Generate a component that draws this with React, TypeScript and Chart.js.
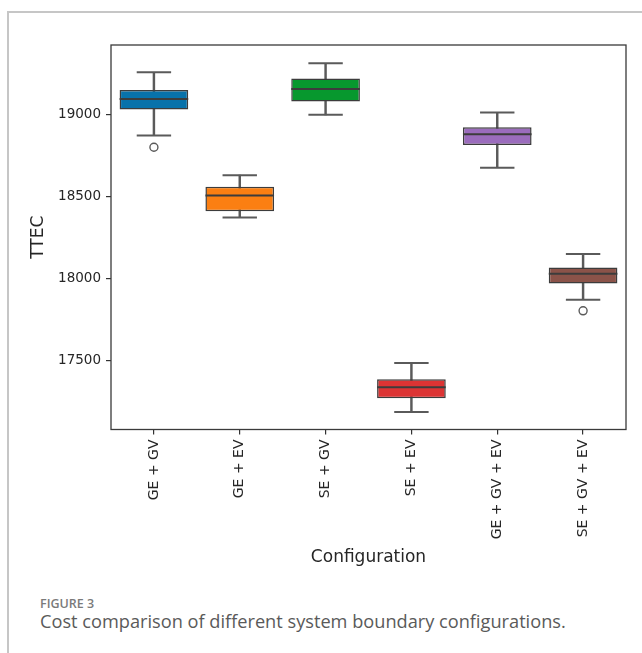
import React, { useEffect, useRef } from "react";
import { Chart, registerables } from "chart.js";

Chart.register(...registerables);

const categories = ["GE + GV", "GE + EV", "SE + GV", "SE + EV", "GE + GV + EV", "SE + GV + EV"];
const whiskerLow = [18870, 18371, 18996, 17189, 18675, 17872];
const q1 = [19028, 18410, 19077, 17272, 18813, 17970];
const median = [19093, 18505, 19154, 17339, 18878, 18029];
const q3 = [19148, 18558, 19217, 17388, 18921, 18067];
const whiskerHigh = [19255, 18629, 19310, 17487, 19010, 18150];
const outliers: (number | null)[] = [18799, null, null, null, null, 17804];
const boxColors = ["#0872aa", "#fb7f12", "#07982e", "#dc3434", "#9b6cbd", "#8b5349"];
const yTicks = [17500, 18000, 18500, 19000];
const yMin = 17082;
const yMax = 19421;

const W = 642;
const CH = 570;
const EDGE = "#3c3c3c";
const WHISK = "#5a5a5a";
const FONT = "'DejaVu Sans', sans-serif";

const framePlugin = {
  id: "frame",
  afterDraw(chart: any) {
    const { ctx, chartArea } = chart;
    ctx.save();
    ctx.strokeStyle = "#3a3a3a";
    ctx.lineWidth = 1.3;
    ctx.strokeRect(chartArea.left, chartArea.top, chartArea.right - chartArea.left, chartArea.bottom - chartArea.top);
    ctx.restore();
  },
};

export default function App() {
  const ref = useRef<HTMLCanvasElement>(null);
  useEffect(() => {
    document.body.style.margin = "0";
    const canvas = ref.current!;
    const chart = new Chart(canvas, {
      type: "bar",
      data: {
        labels: categories,
        datasets: [
          {
            type: "line",
            label: "outliers",
            data: outliers,
            showLine: false,
            pointStyle: "circle",
            pointRadius: 4,
            pointBorderWidth: 1.4,
            pointBorderColor: WHISK,
            pointBackgroundColor: "rgba(255,255,255,0)",
            order: 0,
          } as any,
          {
            type: "line",
            label: "median",
            data: median,
            showLine: false,
            pointStyle: "line",
            pointRadius: 34.3,
            pointBorderWidth: 2,
            pointBorderColor: EDGE,
            order: 1,
          } as any,
          {
            type: "line",
            label: "capHigh",
            data: whiskerHigh,
            showLine: false,
            pointStyle: "line",
            pointRadius: 17.2,
            pointBorderWidth: 2,
            pointBorderColor: WHISK,
            order: 2,
          } as any,
          {
            type: "line",
            label: "capLow",
            data: whiskerLow,
            showLine: false,
            pointStyle: "line",
            pointRadius: 17.2,
            pointBorderWidth: 2,
            pointBorderColor: WHISK,
            order: 2,
          } as any,
          {
            type: "bar",
            label: "box",
            data: categories.map((_, i) => [q1[i], q3[i]]),
            backgroundColor: boxColors,
            borderColor: EDGE,
            borderWidth: 1.5,
            borderSkipped: false,
            categoryPercentage: 0.8,
            barPercentage: 1,
            grouped: false,
            order: 3,
          } as any,
          {
            type: "bar",
            label: "whisker",
            data: categories.map((_, i) => [whiskerLow[i], whiskerHigh[i]]),
            backgroundColor: WHISK,
            borderWidth: 0,
            barThickness: 1.8,
            grouped: false,
            order: 4,
          } as any,
        ],
      },
      options: {
        animation: false,
        responsive: false,
        devicePixelRatio: 1,
        layout: { autoPadding: false, padding: { left: 0, right: W - 626, top: 45, bottom: 0 } },
        plugins: { legend: { display: false }, tooltip: { enabled: false } },
        scales: {
          x: {
            type: "category",
            offset: true,
            grid: { offset: false, drawOnChartArea: false, drawTicks: true, tickLength: 5, color: "#333", lineWidth: 1.2 },
            border: { display: false },
            ticks: {
              minRotation: 90,
              maxRotation: 90,
              autoSkip: false,
              padding: 5,
              color: "#262626",
              font: { family: FONT, size: 14 },
            },
            title: {
              display: true,
              text: "Configuration",
              color: "#262626",
              font: { family: FONT, size: 17 },
              padding: { top: 0, bottom: 2 },
            },
            afterFit: (s: any) => {
              s.height = CH - 429.5;
              s.paddingLeft = 0;
              s.paddingRight = 0;
            },
          } as any,
          y: {
            type: "linear",
            min: yMin,
            max: yMax,
            grid: { drawOnChartArea: false, drawTicks: true, tickLength: 5, color: "#333", lineWidth: 1.2 },
            border: { display: false },
            afterBuildTicks: (s: any) => {
              s.ticks = yTicks.map((v) => ({ value: v }));
            },
            ticks: {
              padding: 5,
              color: "#262626",
              font: { family: FONT, size: 13.5 },
              callback: (v: any) => String(v),
            },
            title: {
              display: true,
              text: "TTEC",
              color: "#262626",
              font: { family: FONT, size: 17 },
              padding: { top: 28, bottom: 0 },
            },
            afterFit: (s: any) => {
              s.width = 111;
              s.paddingTop = 0;
              s.paddingBottom = 0;
            },
          } as any,
        },
      },
      plugins: [framePlugin],
    });
    return () => chart.destroy();
  }, []);

  return (
    <div style={{ position: "relative", width: W, height: 653, background: "#fff", overflow: "hidden" }}>
      <div style={{ position: "absolute", left: 7, top: 11, width: 1.5, height: 653, background: "#c6c6c6" }} />
      <div style={{ position: "absolute", left: 7, top: 11, width: W, height: 1.5, background: "#c6c6c6" }} />
      <canvas ref={ref} width={W} height={CH} style={{ position: "absolute", left: 0, top: 0, width: W, height: CH }} />
      <div
        style={{
          position: "absolute",
          left: 40,
          top: 596,
          fontFamily: "'Open Sans', sans-serif",
          fontSize: 12.5,
          fontWeight: 600,
          color: "#7a7a7a",
          lineHeight: "16px",
        }}
      >
        FIGURE 3
      </div>
      <div
        style={{
          position: "absolute",
          left: 40,
          top: 609,
          fontFamily: "'Open Sans', sans-serif",
          fontSize: 18.2,
          color: "#5a5a5a",
          lineHeight: "24px",
          whiteSpace: "nowrap",
        }}
      >
        Cost comparison of different system boundary configurations.
      </div>
    </div>
  );
}
